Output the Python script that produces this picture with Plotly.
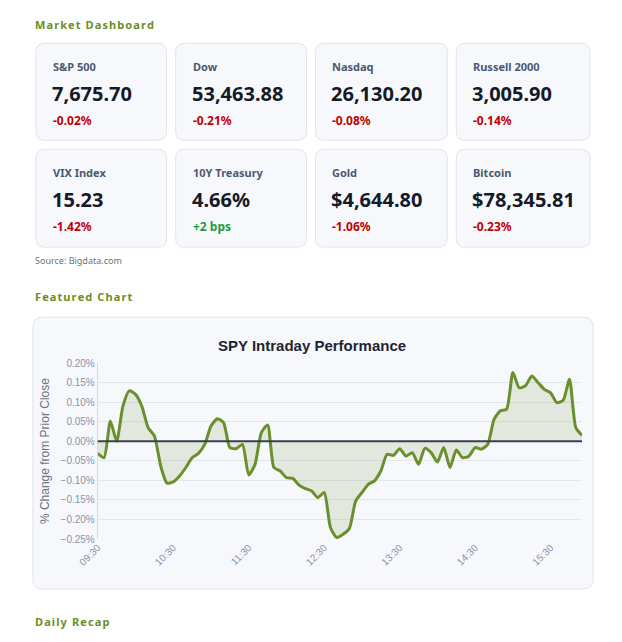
import plotly.graph_objects as go
import pandas as pd

W, H = 622, 642
names = ["S&P 500", "Dow", "Nasdaq", "Russell 2000", "VIX Index", "10Y Treasury", "Gold", "Bitcoin"]
values = ["7,675.70", "53,463.88", "26,130.20", "3,005.90", "15.23", "4.66%", "$4,644.80", "$78,345.81"]
changes = ["-0.02%", "-0.21%", "-0.08%", "-0.14%", "-1.42%", "+2 bps", "-1.06%", "-0.23%"]

spy = [-0.031, -0.042, 0.052, 0.00, 0.09, 0.129, 0.12, 0.09, 0.035, 0.014, -0.063, -0.107, -0.104,
       -0.089, -0.067, -0.042, -0.031, -0.008, 0.039, 0.058, 0.048, -0.016, -0.019, -0.008, -0.086,
       -0.059, 0.022, 0.042, -0.067, -0.076, -0.093, -0.095, -0.112, -0.121, -0.127, -0.144, -0.131,
       -0.221, -0.246, -0.238, -0.223, -0.153, -0.131, -0.11, -0.101, -0.076, -0.033, -0.036, -0.019,
       -0.038, -0.029, -0.059, -0.018, -0.029, -0.053, -0.016, -0.067, -0.022, -0.042, -0.038, -0.016,
       -0.02, -0.008, 0.056, 0.078, 0.082, 0.176, 0.137, 0.142, 0.167, 0.15, 0.133, 0.124, 0.099,
       0.105, 0.159, 0.035, 0.015]
times = pd.date_range("2024-01-02 09:30", periods=len(spy), freq="5min")
tick_times = pd.date_range("2024-01-02 09:30", periods=7, freq="60min")
tick_labels = [t.strftime("%H:%M") for t in tick_times]

# compensate observed render offset/scale
def mx(x): return 35 + (x - 62) / 0.9676
def my(y): return 44 + (y - 57) / 0.985
def px(x): return mx(x) / W
def py(y): return 1 - my(y) / H

def rrect(x0, y0, x1, y1, r):
    pts = (f"M {px(x0+r)} {py(y0)} L {px(x1-r)} {py(y0)} Q {px(x1)} {py(y0)} {px(x1)} {py(y0+r)} "
           f"L {px(x1)} {py(y1-r)} Q {px(x1)} {py(y1)} {px(x1-r)} {py(y1)} "
           f"L {px(x0+r)} {py(y1)} Q {px(x0)} {py(y1)} {px(x0)} {py(y1-r)} "
           f"L {px(x0)} {py(y0+r)} Q {px(x0)} {py(y0)} {px(x0+r)} {py(y0)} Z")
    return dict(type="path", path=pts, xref="paper", yref="paper",
                fillcolor="#f7f8fc", line=dict(color="#e1e4ec", width=1), layer="below")

fig = go.Figure()
fig.add_trace(go.Scatter(x=times, y=spy, mode="lines", line=dict(color="#6a8f2c", width=3, shape="spline", smoothing=0.6),
                         fill="tozeroy", fillcolor="rgba(106,143,44,0.15)", hoverinfo="skip"))

shapes, ann = [], []
F = "Noto Sans"
def text(x, y, s, size, color, bold=False, font=F, anchor="left"):
    ann.append(dict(x=px(x), y=py(y), xref="paper", yref="paper", text=f"<b>{s}</b>" if bold else s,
                    showarrow=False, xanchor=anchor, yanchor="middle",
                    font=dict(size=size, color=color, family=font)))

def spaced(s): return "\u200a".join(s)

green = "#6b8e23"
text(32, 25, spaced("Market Dashboard"), 11, green, True)
text(32, 297, spaced("Featured Chart"), 11, green, True)
text(32, 623, spaced("Daily Recap"), 11, green, True)
text(32, 261, "Source: Bigdata.com", 9, "#6b7280")

xs = [(35, 166), (175, 306), (315, 447), (456, 590)]
ys = [(44, 141), (150, 248)]
for i, (n, v, c) in enumerate(zip(names, values, changes)):
    x0, x1 = xs[i % 4]; y0, y1 = ys[i // 4]
    shapes.append(rrect(x0, y0, x1, y1, 9))
    text(x0 + 15, y0 + 23, n, 11, "#4b5870", True)
    text(x0 + 14, y0 + 50, v, 20, "#151a27", True)
    text(x0 + 15, y0 + 77, c, 12, "#1a9e3a" if c.startswith("+") else "#c00000", True)

shapes.append(rrect(32, 318, 593, 590, 10))
shapes.append(dict(type="line", xref="x domain", yref="y", x0=0, x1=1, y0=0, y1=0,
                   line=dict(color="#374151", width=2)))
text(312, 346, "SPY Intraday Performance", 15, "#1f2430", True, "Liberation Sans", "center")

fig.update_layout(width=W, height=H, margin=dict(l=0, r=0, t=0, b=0), paper_bgcolor="white",
                  plot_bgcolor="#f7f8fc", showlegend=False, shapes=shapes, annotations=ann,
                  xaxis=dict(domain=[px(97), px(582)], range=[times[0], times[-1]], tickvals=tick_times,
                             ticktext=tick_labels, tickangle=-45, showgrid=False, zeroline=False,
                             tickfont=dict(size=10, color="#8a93a6", family="Liberation Sans")),
                  yaxis=dict(domain=[py(540), py(364)], range=[-0.25, 0.2], dtick=0.05, tickformat=".2f",
                             ticksuffix="%", gridcolor="#e3e6ee", zeroline=False, showline=True, linecolor="#d5d9e2",
                             tickfont=dict(size=10, color="#8a93a6", family="Liberation Sans"),
                             title=dict(text="% Change from Prior Close", standoff=8,
                                        font=dict(size=12, color="#6b7280", family="Liberation Sans"))))
fig.write_html("out.html")
